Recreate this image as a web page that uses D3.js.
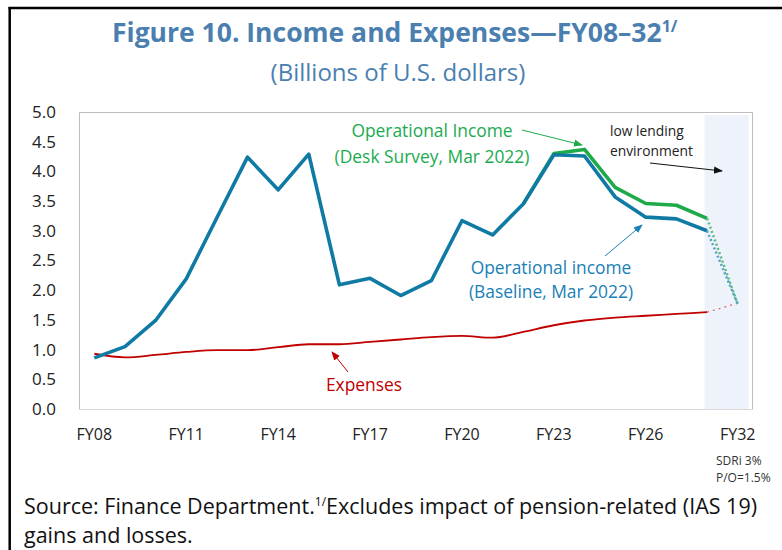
<!DOCTYPE html>
<html>
<head>
<meta charset="utf-8">
<script src="https://cdn.jsdelivr.net/npm/d3@7"></script>
<style>
  body { margin: 0; background: #fff; }
  text { font-family: "Open Sans", "Noto Sans", sans-serif; }
</style>
</head>
<body>
<div id="chart"></div>
<script>
// chart data
var categories = ["FY08","FY09","FY10","FY11","FY12","FY13","FY14","FY15","FY16","FY17","FY18",
  "FY19","FY20","FY21","FY22","FY23","FY24","FY25","FY26","FY27","FY28","FY32"];
var baseline = [0.86,1.05,1.49,2.19,3.22,4.24,3.69,4.29,2.09,2.20,1.91,
  2.16,3.17,2.93,3.45,4.28,4.26,3.57,3.23,3.20,3.00,1.77];
var deskSurvey = [null,null,null,null,null,null,null,null,null,null,null,
  null,null,null,3.45,4.30,4.37,3.73,3.46,3.43,3.21,1.77];
var expenses = [0.93,0.87,0.91,0.96,0.99,0.99,1.04,1.09,1.09,1.13,1.17,
  1.21,1.23,1.20,1.30,1.41,1.49,1.54,1.57,1.60,1.63,1.78];
var xTickLabels = ["FY08","FY11","FY14","FY17","FY20","FY23","FY26","FY32"];
var yTicks = [0,0.5,1,1.5,2,2.5,3,3.5,4,4.5,5];

var svgWidth = 782, svgHeight = 550;
var plot = {left: 79, right: 753, top: 112, bottom: 409};

var svg = d3.select("#chart").append("svg")
  .attr("width", svgWidth)
  .attr("height", svgHeight);

// outer frame (top and left rules only)
svg.append("line").attr("x1", 8.5).attr("x2", svgWidth).attr("y1", 8).attr("y2", 8)
  .attr("stroke", "#000").attr("stroke-width", 2.5);
svg.append("line").attr("x1", 9.7).attr("x2", 9.7).attr("y1", 7).attr("y2", svgHeight)
  .attr("stroke", "#000").attr("stroke-width", 2.5);

// scales
var x = d3.scaleBand().domain(categories).range([plot.left, plot.right]);
var xc = d => x(d) + x.bandwidth() / 2;
var y = d3.scaleLinear().domain([0, 5]).range([plot.bottom, plot.top]);

// shaded projection zone
svg.append("rect")
  .attr("x", xc("FY28") - 2.5)
  .attr("y", y(4.95))
  .attr("width", xc("FY32") + 11 - (xc("FY28") - 2.5))
  .attr("height", y(0) - y(4.95))
  .attr("fill", "#eef3fb");

// plot box
svg.append("path")
  .attr("d", `M${plot.left + 0.5},${plot.bottom}V${plot.top + 0.5}H${plot.right - 0.5}V${plot.bottom}`)
  .attr("fill", "none").attr("stroke", "#bdbdbd").attr("stroke-width", 1);
svg.append("line").attr("x1", plot.left).attr("x2", plot.right)
  .attr("y1", plot.bottom + 0.5).attr("y2", plot.bottom + 0.5)
  .attr("stroke", "#d9d9d9");

// axes
var leftAxis = d3.axisLeft(y).tickValues(yTicks).tickFormat(d3.format(".1f")).tickSize(0).tickPadding(23);
var gy = svg.append("g").attr("transform", `translate(${plot.left},0)`).call(leftAxis);
gy.select(".domain").remove();
gy.selectAll("text").attr("font-size", 17).attr("fill", "#222")
  .style("font-family", '"Open Sans", sans-serif');

var bottomAxis = d3.axisBottom(x).tickValues(xTickLabels).tickSize(0).tickPadding(20);
var gx = svg.append("g").attr("transform", `translate(0,${plot.bottom})`).call(bottomAxis);
gx.select(".domain").remove();
gx.selectAll("text").attr("font-size", 16).attr("fill", "#222")
  .style("font-family", '"Open Sans", sans-serif');

svg.append("text").attr("x", 716).attr("y", 465).attr("font-size", 12).attr("fill", "#333").text("SDRi 3%");
svg.append("text").attr("x", 716).attr("y", 482).attr("font-size", 12).attr("fill", "#333").text("P/O=1.5%");

// lines
function rows(values) {
  return categories.map((c, i) => ({c: c, v: values[i], i: i}));
}
var last = categories.length - 1;
function drawSeries(values, color, dotColor, width, curve, dash) {
  var line = d3.line().defined(d => d.v != null).x(d => xc(d.c)).y(d => y(d.v)).curve(curve);
  var data = rows(values);
  svg.append("path").datum(data.filter(d => d.i < last))
    .attr("d", line).attr("fill", "none").attr("stroke", color)
    .attr("stroke-width", width).attr("stroke-linejoin", "round");
  svg.append("path").datum(data.filter(d => d.i >= last - 1))
    .attr("d", d3.line().x(d => xc(d.c)).y(d => y(d.v)))
    .attr("fill", "none").attr("stroke", dotColor)
    .attr("stroke-width", width * 0.7).attr("stroke-dasharray", dash);
}
drawSeries(expenses, "#c00000", "#e06666", 1.8, d3.curveMonotoneX, "2,4");
drawSeries(deskSurvey, "#1faa4a", "#55c07c", 3.6, d3.curveLinear, "2,2.5");
drawSeries(baseline, "#0f7aa3", "#5a9fc8", 3.6, d3.curveLinear, "2,2.5");

// arrow markers
var defs = svg.append("defs");
function marker(id, color) {
  defs.append("marker").attr("id", id).attr("viewBox", "0 0 10 10")
    .attr("refX", 9).attr("refY", 5).attr("markerWidth", 9).attr("markerHeight", 9)
    .attr("markerUnits", "userSpaceOnUse").attr("orient", "auto")
    .append("path").attr("d", "M0,1L10,5L0,9z").attr("fill", color);
}
marker("arGreen", "#1faa4a");
marker("arBlue", "#1a80b6");
marker("arRed", "#c00000");
marker("arBlack", "#111");

function arrow(x1, y1, x2, y2, color, id) {
  svg.append("line").attr("x1", x1).attr("y1", y1).attr("x2", x2).attr("y2", y2)
    .attr("stroke", color).attr("stroke-width", 1).attr("marker-end", `url(#${id})`);
}
arrow(522, 130, 582, 145, "#1faa4a", "arGreen");
arrow(605, 256, 642, 225, "#1a80b6", "arBlue");
arrow(348, 372, 332, 352, "#c00000", "arRed");
arrow(650, 163, 722, 171, "#111", "arBlack");

// annotation labels
function label(txt, cx, yy, size, color, anchor) {
  svg.append("text").attr("x", cx).attr("y", yy).attr("font-size", size)
    .attr("fill", color).attr("text-anchor", anchor || "middle").text(txt);
}
label("Operational Income", 432, 137, 17.4, "#1aab50");
label("(Desk Survey, Mar 2022)", 432, 163, 17.4, "#1aab50");
label("Operational income", 551, 274, 17.4, "#1a80b6");
label("(Baseline, Mar 2022)", 551, 298, 17.4, "#1a80b6");
label("Expenses", 364, 391, 17.4, "#c00000");
label("low lending", 610, 136, 13.8, "#222", "start");
label("environment", 610, 156, 13.8, "#222", "start");

// title block
var title = svg.append("text").attr("x", 112).attr("y", 42)
  .attr("font-size", 26.5).attr("font-weight", "bold").attr("fill", "#4a7fb0");
title.append("tspan").text("Figure 10. Income and Expenses\u2014FY08\u201332");
title.append("tspan").attr("font-size", 16).attr("dy", -10).text("1/");

svg.append("text").attr("x", 398).attr("y", 81).attr("text-anchor", "middle")
  .attr("font-size", 24).attr("fill", "#4a7fb0").text("(Billions of U.S. dollars)");

// source note
var src = svg.append("text").attr("x", 24).attr("y", 514).attr("font-size", 21.5).attr("fill", "#111");
src.append("tspan").text("Source: Finance Department.");
src.append("tspan").attr("font-size", 12).attr("dy", -8).text("1/");
src.append("tspan").attr("dy", 8).text("Excludes impact of pension-related (IAS 19)");
svg.append("text").attr("x", 24).attr("y", 543).attr("font-size", 21.5).attr("fill", "#111")
  .text("gains and losses.");
</script>
</body>
</html>
